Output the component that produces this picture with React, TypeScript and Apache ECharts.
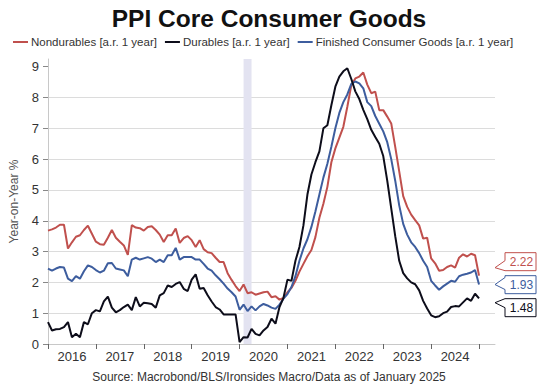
import React, { useEffect, useRef } from "react";
import * as echarts from "echarts";

// Monthly categories: Jan 2016 .. May 2025 (axis extends a little past the last data point)
const firstYear = 2016;
const axisMonthCount = 113;
const months: string[] = [];
for (let i = 0; i < axisMonthCount; i++) {
  const y = firstYear + Math.floor(i / 12);
  const m = (i % 12) + 1;
  months.push(`${y}-${m < 10 ? "0" + m : m}`);
}

const seriesNames = [
  "Nondurables [a.r. 1 year]",
  "Durables [a.r. 1 year]",
  "Finished Consumer Goods [a.r. 1 year]",
];
const seriesColors = ["#c0504d", "#0d0d1a", "#3d5d9e"];

// Jan 2016 .. Jan 2025
const nondurables = [
  3.68, 3.72, 3.78, 3.87, 3.87, 3.10, 3.30, 3.48, 3.53, 3.70, 3.84, 3.58,
  3.32, 3.24, 3.22, 3.45, 3.70, 3.45, 3.32, 3.20, 2.89, 3.86, 3.78, 3.76,
  3.68, 3.80, 3.82, 3.70, 3.55, 3.31, 3.53, 3.53, 3.75, 3.28, 3.44, 3.50,
  3.37, 3.15, 3.37, 3.08, 2.98, 2.95, 2.80, 2.66, 2.66, 2.30, 2.08, 1.88,
  1.72, 1.93, 1.65, 1.68, 1.60, 1.64, 1.68, 1.70, 1.52, 1.55, 1.44, 1.50,
  1.68, 1.82, 2.05, 2.35, 2.60, 2.85, 3.05, 3.47, 4.10, 4.55, 5.10, 5.90,
  6.35, 6.70, 7.05, 7.70, 8.40, 8.62, 8.68, 8.81, 8.42, 8.14, 8.19, 7.59,
  7.59, 7.38, 7.16, 6.40, 5.60, 4.80, 4.45, 4.20, 4.02, 3.85, 3.42, 3.45,
  2.78, 2.62, 2.38, 2.40, 2.50, 2.55, 2.48, 2.80, 2.91, 2.84, 2.93, 2.88,
  2.22,
];

const durables = [
  0.71, 0.44, 0.48, 0.49, 0.55, 0.71, 0.22, 0.33, 0.22, 0.71, 0.64, 1.00,
  1.10, 1.06, 1.38, 1.54, 1.18, 1.03, 1.10, 1.20, 1.28, 1.10, 1.52, 1.22,
  1.34, 1.32, 1.30, 1.18, 1.58, 1.65, 1.90, 1.85, 1.95, 2.01, 1.79, 1.72,
  2.09, 2.26, 1.79, 1.82, 1.58, 1.38, 1.20, 1.12, 0.96, 0.96, 0.96, 0.96,
  0.06, 0.22, 0.21, 0.49, 0.33, 0.28, 0.44, 0.55, 0.82, 0.66, 1.20, 1.50,
  2.09, 2.05, 2.70, 3.15, 3.85, 4.85, 5.50, 5.90, 6.25, 7.00, 7.10, 7.75,
  8.35, 8.68, 8.85, 8.95, 8.60, 8.20, 7.95, 7.60, 7.30, 6.95, 6.72, 6.50,
  6.10, 5.30, 4.40, 3.50, 2.70, 2.30, 2.13, 2.00, 1.94, 1.74, 1.40, 1.15,
  0.93, 0.87, 0.90, 1.00, 1.05, 1.20, 1.23, 1.22, 1.35, 1.48, 1.40, 1.63,
  1.48,
];

const finishedGoods = [
  2.45, 2.38, 2.45, 2.50, 2.48, 2.12, 2.04, 2.20, 2.12, 2.36, 2.55, 2.50,
  2.40, 2.32, 2.38, 2.62, 2.63, 2.45, 2.42, 2.39, 2.20, 2.74, 2.80, 2.74,
  2.78, 2.82, 2.77, 2.66, 2.74, 2.66, 2.88, 2.88, 3.12, 2.74, 2.82, 2.82,
  2.82, 2.74, 2.74, 2.60, 2.45, 2.38, 2.23, 2.10, 1.96, 1.80, 1.68, 1.54,
  1.11, 1.28, 1.07, 1.22, 1.09, 1.22, 1.30, 1.25, 1.18, 1.14, 1.28, 1.47,
  1.62, 1.85, 2.20, 2.70, 3.10, 3.40, 3.80, 4.30, 4.85, 5.40, 5.85, 6.40,
  7.00, 7.50, 7.85, 8.10, 8.44, 8.52, 8.46, 8.30, 7.85, 7.72, 7.40, 7.15,
  6.90, 6.55, 6.00, 5.30, 4.50, 3.90, 3.55, 3.30, 3.15, 2.95, 2.70, 2.50,
  2.05, 1.90, 1.76, 1.87, 1.96, 2.05, 2.02, 2.20, 2.25, 2.28, 2.32, 2.40,
  1.93,
];

const seriesData = [nondurables, durables, finishedGoods];
const recession = ["2020-02", "2020-04"];
const yTicks = [0, 1, 2, 3, 4, 5, 6, 7, 8, 9];

const FONT = "'Liberation Sans', Arial, sans-serif";

export default function App() {
  const ref = useRef<HTMLDivElement>(null);

  useEffect(() => {
    const chart = echarts.init(ref.current!, null, { renderer: "svg" });

    const option: any = {
      animation: false,
      textStyle: { fontFamily: FONT },
      title: [
        {
          text: "PPI Core Consumer Goods",
          left: "center",
          top: 1,
          textStyle: { fontSize: 24.5, fontWeight: "bold", color: "#111", fontFamily: FONT },
        },
        {
          text: "Source: Macrobond/BLS/Ironsides Macro/Data as of January 2025",
          left: "center",
          bottom: 0,
          textStyle: { fontSize: 12, fontWeight: "normal", color: "#333", fontFamily: FONT },
        },
      ],
      legend: {
        data: seriesNames,
        top: 31,
        left: 8,
        icon: "rect",
        itemWidth: 15,
        itemHeight: 2,
        itemGap: 8,
        textStyle: { fontSize: 11.5, color: "#333", padding: [0, 0, 0, -2] },
      },
      grid: { left: 34, right: 43, top: 59, bottom: 44, containLabel: false },
      xAxis: {
        type: "category",
        data: months,
        boundaryGap: false,
        axisLine: { show: true, lineStyle: { color: "#c8c8c8" } },
        axisTick: {
          show: true,
          length: 5,
          interval: (i: number) => i % 12 === 0,
          lineStyle: { color: "#666" },
        },
        axisLabel: {
          interval: (i: number) => i % 12 === 6,
          formatter: (v: string) => v.slice(0, 4),
          fontSize: 13,
          color: "#333",
          margin: 6,
        },
        splitLine: { show: false },
      },
      yAxis: {
        type: "value",
        min: 0,
        max: 9.25,
        interval: 1,
        name: "Year-on-Year %",
        nameLocation: "middle",
        nameGap: 28,
        nameTextStyle: { fontSize: 12, color: "#555" },
        axisLine: { show: true, lineStyle: { color: "#c8c8c8" } },
        axisTick: { show: true, length: 5, customValues: yTicks, lineStyle: { color: "#888" } },
        axisLabel: { customValues: yTicks, fontSize: 13, color: "#333", margin: 9 },
        splitLine: { show: true, showMaxLine: false, lineStyle: { color: "#dcdcdc", width: 1 } },
      },
      series: [
        {
          name: "recession",
          type: "line",
          data: [],
          z: 1,
          silent: true,
          markArea: {
            silent: true,
            itemStyle: { color: "#e3e3f1" },
            data: [[{ xAxis: recession[0] }, { xAxis: recession[1] }]],
          },
        },
        ...seriesNames.map((name, i) => ({
          name,
          type: "line",
          data: seriesData[i],
          symbol: "none",
          z: 3 + (i === 1 ? 1 : 0),
          lineStyle: { color: seriesColors[i], width: 2 },
          itemStyle: { color: seriesColors[i] },
        })),
      ],
    };

    chart.setOption(option);

    // End-of-line value tags, positioned from the library's own scales
    const tags = seriesData.map((d, i) => {
      const last = d.length - 1;
      const p = chart.convertToPixel({ gridIndex: 0 }, [months[last], d[last]]) as number[];
      return { i, value: d[last], lineY: p[1], y: p[1] };
    });
    const sorted = [...tags].sort((a, b) => a.lineY - b.lineY);
    const gap = 23;
    for (let k = 1; k < sorted.length; k++) {
      sorted[k].y = Math.max(sorted[k].y, sorted[k - 1].y + gap);
    }
    const meanOrig = sorted.reduce((s, t) => s + t.lineY, 0) / sorted.length;
    const meanAdj = sorted.reduce((s, t) => s + t.y, 0) / sorted.length;
    const shift = meanOrig - meanAdj;
    sorted.forEach((t) => (t.y += shift - 1.5));

    const gridRight = chart.getWidth() - 43;
    const tipX = gridRight;
    const boxL = tipX + 10;
    const boxR = boxL + 31;
    const h = 18;
    const graphics: any[] = [];
    tags.forEach((t) => {
      const top = t.y - h / 2;
      const bot = t.y + h / 2;
      const tipY = Math.min(Math.max(t.lineY, top + 4), bot - 3);
      const color = seriesColors[t.i];
      graphics.push({
        type: "polygon",
        z: 100,
        shape: {
          points: [
            [boxL, top],
            [boxR, top],
            [boxR, bot],
            [boxL, bot],
            [boxL, Math.min(bot, tipY + 5)],
            [tipX, tipY],
            [boxL, Math.max(top, tipY - 7)],
          ],
        },
        style: { fill: "#fff", stroke: color, lineWidth: 1 },
      });
      graphics.push({
        type: "text",
        z: 101,
        x: (boxL + boxR) / 2 + 1,
        y: t.y,
        style: {
          text: t.value.toFixed(2),
          fill: color,
          font: `12px ${FONT}`,
          align: "center",
          verticalAlign: "middle",
        },
      });
    });
    chart.setOption({ graphic: graphics });

    return () => chart.dispose();
  }, []);

  return (
    <div
      ref={ref}
      style={{ position: "fixed", left: 0, top: 0, width: 538, height: 388, background: "#fff" }}
    />
  );
}
